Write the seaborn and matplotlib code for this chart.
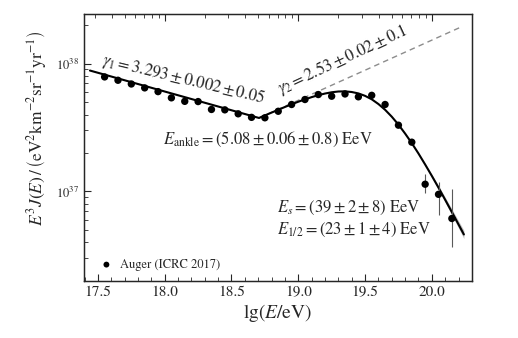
import numpy as np
import pandas as pd
import matplotlib
matplotlib.use("Agg")
import matplotlib.pyplot as plt
import seaborn as sns

# Auger (ICRC 2017) spectrum, E^3 J(E) in units of 1e37 eV^2 km^-2 sr^-1 yr^-1
lg_e = [17.55, 17.65, 17.75, 17.85, 17.95, 18.05, 18.15, 18.25, 18.35,
        18.45, 18.55, 18.65, 18.75, 18.85, 18.95, 19.05, 19.15, 19.25,
        19.35, 19.45, 19.55, 19.65, 19.75, 19.85, 19.95, 20.05, 20.15]
flux = [7.87, 7.41, 6.93, 6.46, 6.04, 5.40, 5.07, 5.05, 4.38,
        4.35, 4.05, 3.80, 3.77, 4.24, 4.79, 5.24, 5.73, 5.56,
        5.79, 5.50, 5.65, 4.79, 3.30, 2.43, 1.14, 0.95, 0.615]
# error bars (only the last bins are visible)
err_lo = [0.0] * 24 + [0.16, 0.29, 0.25]
err_hi = [0.0] * 24 + [0.24, 0.23, 0.425]

# fit curve (log10 of E^3 J)
fit_lg = [17.44, 18.706, 18.75, 18.80, 18.85, 18.90, 18.95, 19.00, 19.05,
          19.10, 19.15, 19.20, 19.25, 19.30, 19.35, 19.40, 19.45, 19.50,
          19.55, 19.60, 19.65, 19.70, 19.75, 19.80, 19.85, 19.90, 19.95,
          20.00, 20.05, 20.10, 20.15, 20.20, 20.24]
fit_log = [37.946, 37.575, 37.595, 37.617, 37.639, 37.661, 37.682, 37.702,
           37.720, 37.738, 37.753, 37.766, 37.776, 37.782, 37.783, 37.778,
           37.767, 37.748, 37.721, 37.684, 37.639, 37.585, 37.523, 37.453,
           37.378, 37.297, 37.211, 37.122, 37.030, 36.935, 36.839, 36.742,
           36.664]
# uncertainty band half width (log10) along the fit, tail only
band_half = [0.0] * 25 + [0.004, 0.008, 0.012, 0.016, 0.02, 0.024, 0.028, 0.032]

# extrapolated gamma_2 power law
dash_lg = [18.706, 20.22]
dash_log = [37.575, 38.287]

sns.set_style("ticks")
plt.rcParams["font.family"] = ["STIXGeneral", "DejaVu Serif"]
plt.rcParams["mathtext.fontset"] = "stix"

fig = plt.figure(figsize=(5.18, 3.38), dpi=100)
ax = fig.add_axes([0.162, 0.169, 0.749, 0.79])

df = pd.DataFrame({"lg": lg_e, "flux": np.array(flux) * 1e37})
fit = pd.DataFrame({"lg": fit_lg, "flux": 10 ** np.array(fit_log)})
dash = pd.DataFrame({"lg": dash_lg, "flux": 10 ** np.array(dash_log)})

half = np.array(band_half)
ax.fill_between(fit_lg, 10 ** (np.array(fit_log) - half),
                10 ** (np.array(fit_log) + half), color="0.75", lw=0, zorder=1)
sns.lineplot(data=dash, x="lg", y="flux", ax=ax, color="0.55", lw=1.0,
             linestyle=(0, (4, 3)), zorder=2)
sns.lineplot(data=fit, x="lg", y="flux", ax=ax, color="black", lw=1.5, zorder=3)
ax.errorbar(lg_e, df["flux"], yerr=[np.array(err_lo) * 1e37, np.array(err_hi) * 1e37],
            fmt="none", ecolor="0.35", elinewidth=0.8, zorder=3)
sns.scatterplot(data=df, x="lg", y="flux", ax=ax, color="black", s=28,
                edgecolor="none", zorder=4, label="Auger (ICRC 2017)")

ax.set_yscale("log")
ax.set_xlim(17.395, 20.30)
ax.set_ylim(2.0e36, 2.45e38)
ax.set_xticks([17.5, 18.0, 18.5, 19.0, 19.5, 20.0])
ax.set_xticklabels(["17.5", "18.0", "18.5", "19.0", "19.5", "20.0"])
ax.set_xticks(np.arange(17.4, 20.31, 0.1), minor=True)
ax.tick_params(axis="both", which="both", direction="in", labelsize=11,
               top=False, right=False)
ax.tick_params(which="major", length=5, width=0.8)
ax.tick_params(which="minor", length=3, width=0.6)
ax.tick_params(axis="y", labelsize=9)
for s in ax.spines.values():
    s.set_linewidth(1.0)

ax.set_xlabel(r"$\mathrm{lg}(E/\mathrm{eV})$", fontsize=14, labelpad=2)
ax.set_ylabel(r"$E^3J(E)\,/\,\left(\mathrm{eV}^2\mathrm{km}^{-2}\mathrm{sr}^{-1}\mathrm{yr}^{-1}\right)$",
              fontsize=12.5)
ax.yaxis.set_label_coords(-0.09, 0.57)

# top axis: energy in log spacing
top = ax.twiny()
top.set_xlim(ax.get_xlim())
top_major = [18.0, 19.0, 20.0]
top_minor = [np.log10(k) + d for d in [17, 18, 19, 20] for k in range(2, 10)]
top_minor = [t for t in top_minor if 17.395 < t < 20.30]
top.set_xticks(top_major)
top.set_xticks(top_minor, minor=True)
top.tick_params(which="both", direction="in", labeltop=False)
top.tick_params(which="major", length=5, width=0.8)
top.tick_params(which="minor", length=3, width=0.6)

# annotations
ax.text(18.142, 10 ** 37.875, r"$\gamma_1 = 3.293 \pm 0.002 \pm 0.05$", fontsize=12,
        rotation=-13.5, ha="center", va="center", rotation_mode="anchor")
ax.text(19.33, 10 ** 38.03, r"$\gamma_2 = 2.53 \pm 0.02 \pm 0.1$", fontsize=12,
        rotation=25, ha="center", va="center", rotation_mode="anchor")
ax.text(17.985, 10 ** 37.406, r"$E_{\mathrm{ankle}} = (5.08 \pm 0.06 \pm 0.8)\ \mathrm{EeV}$",
        fontsize=12, ha="left", va="center")
ax.text(18.843, 10 ** 36.875, r"$E_s = (39 \pm 2 \pm 8)\ \mathrm{EeV}$",
        fontsize=12, ha="left", va="center")
ax.text(18.843, 10 ** 36.703, r"$E_{1/2} = (23 \pm 1 \pm 4)\ \mathrm{EeV}$",
        fontsize=12, ha="left", va="center")

leg = ax.legend(loc="lower left", frameon=False, fontsize=9, handletextpad=0.1,
                borderaxespad=0.4, markerscale=0.8)

fig.savefig("out.png", dpi=100)
